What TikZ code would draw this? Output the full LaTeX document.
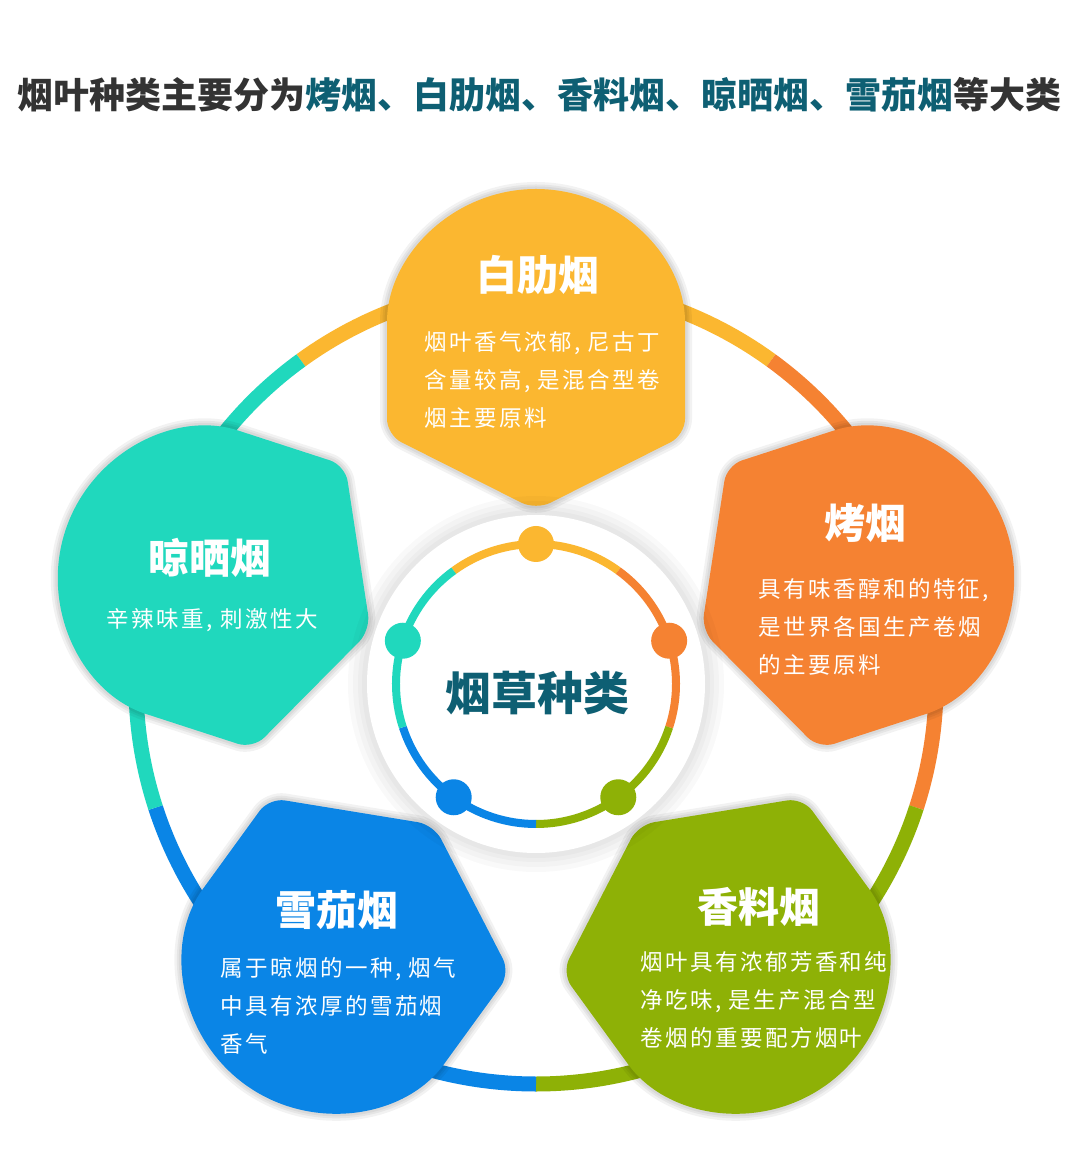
\documentclass[tikz,border=0pt]{standalone}
\usepackage{fontspec}
\usetikzlibrary{positioning}
\newfontfamily\cjk{Noto Sans CJK SC}
\newfontfamily\cjkbody[LetterSpace=11]{Noto Sans CJK SC}
\definecolor{cyellow}{HTML}{FBB730}
\definecolor{corange}{HTML}{F58232}
\definecolor{cgreen}{HTML}{8EB106}
\definecolor{cblue}{HTML}{0A85E6}
\definecolor{cteal}{HTML}{20D8BD}
\definecolor{deepteal}{HTML}{0E5F73}
\definecolor{darktext}{HTML}{333333}

\begin{document}
\begin{tikzpicture}[x=1pt, y=1pt,
  head/.style={font=\cjk\bfseries\fontsize{41}{41}\selectfont, text=white, inner sep=0pt},
  body/.style={font=\cjkbody\fontsize{22.5}{38}\selectfont, text=white, align=left, inner sep=0pt, anchor=base west},
  petal/.style={rounded corners=16pt},
  halo/.style={draw=black, line width=#1, opacity=0.05, rounded corners=16pt},
  ring/.style={line width=15pt},
  iring/.style={line width=8pt}
]
\useasboundingbox (-536,-471) rectangle (544,684);
\fill[white] (-536,-471) rectangle (544,684);

\foreach \a/\c in {90/cyellow, 18/corange, -54/cgreen, -126/cblue, 162/cteal}
  \draw[ring, \c] ({\a-36}:400) arc[start angle=\a-36, end angle=\a+36, radius=400];

\foreach \a/\c in {0/cyellow, -72/corange, -144/cgreen, 144/cblue, 72/cteal}{
  \foreach \w in {14,9,5}
    \draw[halo=\w pt, rotate=\a] (0,174) -- (149,249) -- (149,346) arc[start angle=0, end angle=180, radius=149] -- (-149,249) -- cycle;
  \fill[petal, \c, rotate=\a] (0,174) -- (149,249) -- (149,346) arc[start angle=0, end angle=180, radius=149] -- (-149,249) -- cycle;
}

\foreach \r in {188,183,178,174}
  \fill[black, opacity=0.025] (0,0) circle[radius=\r];
\fill[white] (0,0) circle[radius=169];

\foreach \a/\c in {90/cyellow, 18/corange, -54/cgreen, -126/cblue, 162/cteal}{
  \draw[iring, \c] ({\a-36}:140) arc[start angle=\a-36, end angle=\a+36, radius=140];
  \fill[\c] (\a:140) circle[radius=18];
}

\node[font=\cjk\bfseries\fontsize{36}{36}\selectfont, inner sep=0pt] (title) at (4,589)
  {\color{darktext}烟叶种类主要分为\color{deepteal}烤烟、白肋烟、香料烟、晾晒烟、雪茄烟\color{darktext}等大类};
\node[font=\cjk\bfseries\fontsize{46}{46}\selectfont, text=deepteal, inner sep=0pt] (kinds) at (1,-9) {烟草种类};

\node[head] (burley) at (2,409) {白肋烟};
\node[body] (burleytext) at (-112,257) {烟叶香气浓郁, 尼古丁\\含量较高, 是混合型卷\\烟主要原料};

\node[head] (flue) at (329,161) {烤烟};
\node[body] (fluetext) at (222,10) {具有味香醇和的特征,\\是世界各国生产卷烟\\的主要原料};

\node[head] (sun) at (-326,126) {晾晒烟};
\node[body, anchor=base] (suntext) at (-324,56) {辛辣味重, 刺激性大};

\node[head] (cigar) at (-199,-226) {雪茄烟};
\node[body] (cigartext) at (-316,-368) {属于晾烟的一种, 烟气\\中具有浓厚的雪茄烟\\香气};

\node[head] (oriental) at (223,-223) {香料烟};
\node[body] (orientaltext) at (104,-362) {烟叶具有浓郁芳香和纯\\净吃味, 是生产混合型\\卷烟的重要配方烟叶};
\end{tikzpicture}
\end{document}
